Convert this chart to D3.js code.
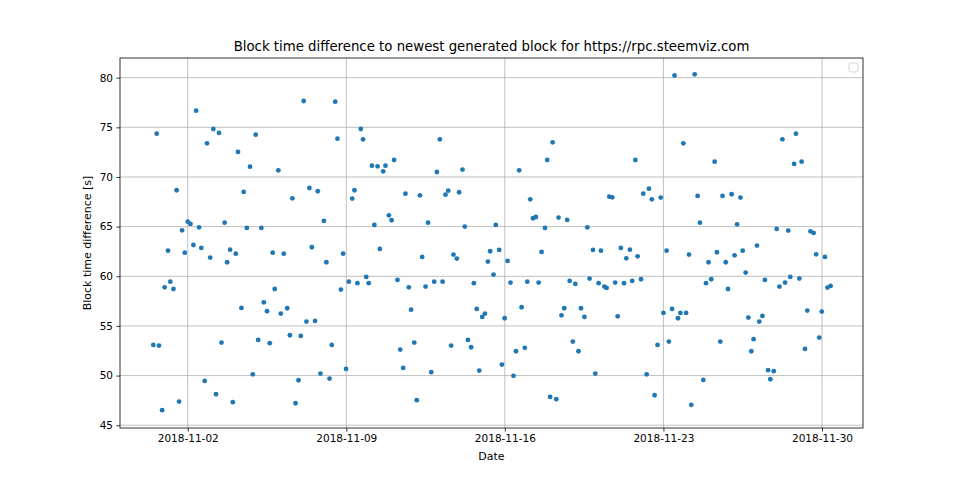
<!DOCTYPE html>
<html><head><meta charset="utf-8">
<script src="https://cdn.jsdelivr.net/npm/d3@7"></script>
<style>body{margin:0;background:#fff}</style>
</head><body><svg id="c" width="960" height="480"></svg>
<script>
// day of November 2018 (fractional)
const days = [2.37,0.63,3.13,3.38,2.85,5.00,4.22,4.75,1.51,4.47,2.0,2.12,1.75,2.50,3.63,4.61,5.25,1.13,1.87,2.25,2.60,2.99,3.87,4.12,3.74,1.23,0.98,1.37,4.37,0.48,0.73,3.49,5.11,2.75,4.87,3.25,1.62,3.99,0.87,
7.12,8.51,9.64,8.61,9.74,10.13,10.38,6.00,7.37,7.74,6.62,9.36,9.26,8.01,10.24,5.75,6.24,7.48,8.12,8.86,10.48,5.84,9.11,9.49,9.88,9.99,8.76,5.36,5.50,6.39,6.11,7.24,7.62,5.62,6.51,6.99,8.36,7.86,8.26,8.99,6.89,6.76,
13.13,11.11,10.73,10.63,13.00,14.13,11.61,12.25,13.38,13.50,13.98,10.88,11.0,12.61,14.23,15.60,12.35,13.73,13.88,15.35,15.75,15.25,15.50,11.26,11.76,12.50,12.88,13.25,14.63,11.86,14.76,15.12,15.0,11.38,12.0,13.63,14.37,14.51,11.51,12.75,14.87,15.87,12.11,
18.11,17.87,16.63,20.61,20.74,17.12,17.24,17.37,18.37,18.75,17.77,19.64,16.12,17.62,19.89,20.24,21.12,16.25,16.99,17.49,18.86,19.11,19.74,20.14,20.39,20.49,20.87,16.74,18.62,18.50,19.36,19.51,20.98,15.99,16.49,16.88,19.0,19.25,16.38,19.99,18.0,18.27,
23.49,24.38,23.88,21.76,25.26,22.36,22.11,22.49,22.88,24.51,25.61,26.01,26.40,24.61,26.25,21.52,21.36,21.86,23.14,24.13,25.36,24.99,25.75,26.14,26.50,21.26,21.62,22.01,24.88,25.11,25.85,23.0,23.38,23.75,24.0,23.64,22.74,23.24,25.51,22.26,24.76,22.61,24.23,
28.85,28.25,28.77,29.10,28.0,28.51,29.49,29.63,27.13,29.74,30.13,26.63,27.48,28.12,28.37,28.60,29.0,30.24,30.38,26.75,27.37,27.23,29.35,29.99,26.98,26.88,29.88,29.25,27.62,27.87,27.72];
const values = [76.68,74.36,74.83,74.43,73.39,74.26,72.52,71.04,68.66,68.49,65.5,65.27,64.63,64.93,65.40,64.87,64.87,62.58,62.38,63.15,62.85,61.88,62.68,62.28,61.41,59.46,58.89,58.72,56.81,53.09,53.02,53.32,53.59,49.46,50.13,48.12,47.38,47.32,46.51,
77.65,77.58,74.83,73.86,73.79,71.14,71.07,70.67,68.89,68.56,67.85,68.66,67.82,65.57,65.17,62.38,62.28,62.92,61.41,62.28,62.75,58.72,59.46,59.30,59.93,59.30,58.66,57.38,56.48,56.78,56.24,55.44,55.50,53.26,54.06,53.99,53.09,50.20,49.70,50.67,49.53,47.21,
73.79,71.71,71.14,70.57,70.50,70.74,68.32,68.15,68.22,68.62,68.46,66.14,65.64,65.40,65.0,65.17,61.95,62.18,61.78,62.52,62.65,61.48,60.17,59.63,58.89,58.96,59.46,59.46,59.30,56.64,56.71,56.24,55.91,52.62,53.32,53.02,53.59,52.85,50.77,50.34,50.50,51.11,47.52,
73.49,71.71,70.67,68.02,67.95,67.75,65.84,65.97,65.91,65.67,64.87,64.93,61.54,62.45,62.65,62.58,62.85,59.36,59.46,59.36,59.53,59.23,59.77,59.30,58.96,58.83,59.36,56.88,56.78,56.07,56.78,55.91,55.97,55.77,52.45,52.79,53.42,52.45,49.97,50.20,47.85,47.62,
80.23,80.34,73.39,71.71,71.54,68.82,68.32,67.75,67.92,68.09,68.09,68.26,67.92,65.40,65.23,62.68,61.81,62.01,62.58,62.18,62.42,61.41,61.41,62.11,62.58,59.30,59.53,59.70,59.30,59.70,58.72,56.31,56.71,56.31,56.31,55.77,53.09,53.42,53.42,50.13,49.56,48.02,47.05,
74.36,73.79,71.31,71.54,64.77,64.60,64.53,64.36,63.09,62.21,61.95,60.37,59.63,58.96,59.36,59.93,59.77,58.86,59.03,55.84,56.01,55.44,56.54,56.44,53.66,52.45,53.83,52.68,50.54,50.44,49.63];
const xTicks = ["2018-11-02","2018-11-09","2018-11-16","2018-11-23","2018-11-30"];
const yTicks = [45,50,55,60,65,70,75,80];

const DAY = 864e5, base = Date.UTC(2018,10,1);
const toDate = d => new Date(base + (d-1)*DAY);
const data = days.map((d,i)=>({t:toDate(d), v:values[i]}));

const L=120,R=863,T=58,B=428;
const svg=d3.select("#c").style("font-family","DejaVu Sans, sans-serif");
const x=d3.scaleUtc().domain([toDate(-0.99), toDate(31.81)]).range([L,R]);
const y=d3.scaleLinear().domain([44.72,81.98]).range([B,T]);
const xt = xTicks.map(s=>new Date(s+"T00:00:00Z"));

svg.append("g").selectAll("line").data(xt).join("line")
 .attr("x1",d=>x(d)).attr("x2",d=>x(d)).attr("y1",T).attr("y2",B).attr("stroke","#b0b0b0").attr("stroke-width",0.8);
svg.append("g").selectAll("line").data(yTicks).join("line")
 .attr("y1",d=>y(d)).attr("y2",d=>y(d)).attr("x1",L).attr("x2",R).attr("stroke","#b0b0b0").attr("stroke-width",0.8);

svg.append("g").selectAll("circle").data(data).join("circle")
 .attr("cx",d=>x(d.t)).attr("cy",d=>y(d.v)).attr("r",2.4).attr("fill","#1f77b4");

const fmt=d3.utcFormat("%Y-%m-%d");
const xa=svg.append("g").attr("transform",`translate(0,${B})`).call(d3.axisBottom(x).tickValues(xt).tickFormat(fmt).tickSize(3.5).tickPadding(3.5));
const ya=svg.append("g").attr("transform",`translate(${L},0)`).call(d3.axisLeft(y).tickValues(yTicks).tickSize(3.5).tickPadding(3.5));
[xa,ya].forEach(a=>{a.select(".domain").remove();a.selectAll("text").attr("font-size",10.5).attr("font-family","DejaVu Sans").attr("fill","#000");a.selectAll("line").attr("stroke","#000").attr("stroke-width",0.8);});

svg.append("rect").attr("x",L).attr("y",T).attr("width",R-L).attr("height",B-T).attr("fill","none").attr("stroke","#000").attr("stroke-width",0.8);
svg.append("rect").attr("x",849).attr("y",63).attr("width",9).attr("height",9).attr("rx",2).attr("fill","#fff").attr("stroke","#ccc").attr("stroke-width",0.8);

svg.append("text").attr("x",(L+R)/2).attr("y",51).attr("text-anchor","middle").attr("font-size",13.3).text("Block time difference to newest generated block for https://rpc.steemviz.com");
svg.append("text").attr("x",(L+R)/2).attr("y",460).attr("text-anchor","middle").attr("font-size",11).text("Date");
svg.append("text").attr("transform",`translate(91,${(T+B)/2}) rotate(-90)`).attr("text-anchor","middle").attr("font-size",11).text("Block time difference [s]");
</script></body></html>
